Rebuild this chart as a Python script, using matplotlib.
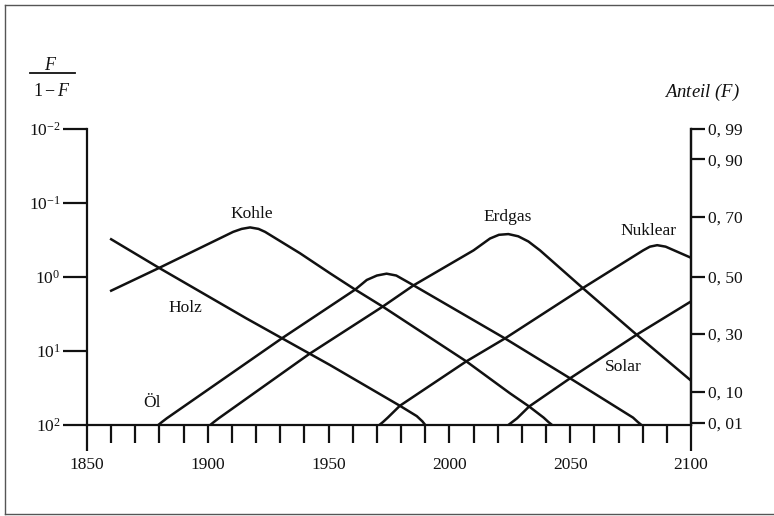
import matplotlib
matplotlib.use('Agg')
import matplotlib.pyplot as plt
from matplotlib.lines import Line2D
from matplotlib.ticker import FixedLocator, FixedFormatter

plt.rcParams['font.family'] = 'Liberation Serif'
plt.rcParams['mathtext.fontset'] = 'custom'
plt.rcParams['mathtext.rm'] = 'Liberation Serif'
plt.rcParams['mathtext.it'] = 'Liberation Serif:italic'

# log10 of F/(1-F), one unit per decade (0 = half share)
holz_years = [1860, 1880, 1916, 1950.6, 1979.5, 1986.5, 1988.8, 1990]
holz_vals = [0.51, 0.12, -0.56, -1.19, -1.74, -1.88, -1.95, -2.0]

kohle_years = [1860, 1880, 1910.5, 1914, 1917.5, 1921, 1923.7, 1938.2, 1950.6, 1961, 1972.4,
               2007, 2025, 2033, 2039, 2041, 2042.5]
kohle_vals = [-0.185, 0.125, 0.61, 0.65, 0.67, 0.65, 0.61, 0.32, 0.05, -0.17, -0.40,
              -1.14, -1.57, -1.75, -1.90, -1.96, -2.0]

oel_years = [1879.5, 1881, 1883, 1930.6, 1961, 1965.8, 1970, 1974, 1978, 1983.7, 2023, 2050,
             2076, 2078, 2079.5]
oel_vals = [-2.0, -1.96, -1.91, -0.83, -0.17, -0.04, 0.02, 0.045, 0.02, -0.085, -0.83, -1.37,
            -1.90, -1.96, -2.0]

erdgas_years = [1901, 1902.5, 1904.5, 1942, 1972.4, 1985.3, 2010, 2016.8, 2020.5, 2024.4,
                2028.5, 2032.7, 2037.5, 2055.2, 2077.5, 2100]
erdgas_vals = [-2.0, -1.96, -1.91, -1.04, -0.40, -0.11, 0.36, 0.52, 0.57, 0.58,
               0.55, 0.48, 0.36, -0.15, -0.78, -1.40]

nuklear_years = [1971, 1972.5, 1974.5, 1979.5, 2007, 2023, 2055.2, 2080.2, 2083, 2086,
                 2089.5, 2100]
nuklear_vals = [-2.0, -1.96, -1.90, -1.74, -1.14, -0.83, -0.15, 0.36, 0.41, 0.43,
                0.41, 0.26]

solar_years = [2024.4, 2026, 2028, 2033, 2049.9, 2077.5, 2100]
solar_vals = [-2.0, -1.96, -1.91, -1.75, -1.37, -0.78, -0.33]

series = [(holz_years, holz_vals), (kohle_years, kohle_vals), (oel_years, oel_vals),
          (erdgas_years, erdgas_vals), (nuklear_years, nuklear_vals), (solar_years, solar_vals)]

labels = ['Kohle', 'Holz', 'Öl', 'Erdgas', 'Nuklear', 'Solar']
label_x = [1918.3, 1890.6, 1876.9, 2024.2, 2082.2, 2071.8]
label_y = [0.85, -0.42, -1.70, 0.81, 0.62, -1.22]

left_ticks = [-2, -1, 0, 1, 2]
left_labels = ['10$^2$', '10$^1$', '10$^0$', '10$^{-1}$', '10$^{-2}$']

right_ticks = [-1.97, -1.55, -0.77, 0.0, 0.81, 1.59, 2.0]
right_labels = ['0, 01', '0, 10', '0, 30', '0, 50', '0, 70', '0, 90', '0, 99']

year_labels = {1900: '1900', 1950: '1950', 2000: '2000', 2050: '2050'}

INK = '#111111'
W, H = 774, 516
fig = plt.figure(figsize=(W / 100, H / 100), dpi=100)
ax = fig.add_axes([87 / W, 1 - 425 / H, 604 / W, 296 / H])

for years, vals in series:
    ax.plot(years, vals, color=INK, lw=1.8, solid_joinstyle='round')

for name, x, y in zip(labels, label_x, label_y):
    ax.text(x, y, name, ha='center', va='center', fontsize=12.5, color=INK)

ax.set_xlim(1850, 2100)
ax.set_ylim(-2, 2)
ax.spines['top'].set_visible(False)
for s in ['left', 'right', 'bottom']:
    ax.spines[s].set_linewidth(1.6)
    ax.spines[s].set_color(INK)

# long ticks at both ends, short ones every decade
ax.xaxis.set_major_locator(FixedLocator([1850, 2100]))
ax.xaxis.set_major_formatter(FixedFormatter(['1850', '2100']))
minor_years = list(range(1860, 2100, 10))
ax.xaxis.set_minor_locator(FixedLocator(minor_years))
ax.xaxis.set_minor_formatter(FixedFormatter([year_labels.get(y, '') for y in minor_years]))
ax.tick_params(axis='x', which='major', direction='out', length=19, width=1.6, pad=4,
               labelsize=12.5, color=INK, labelcolor=INK)
ax.tick_params(axis='x', which='minor', direction='out', length=13, width=1.6, pad=10,
               labelsize=12.5, color=INK, labelcolor=INK)

ax.set_yticks(left_ticks)
ax.set_yticklabels(left_labels)
ax.tick_params(axis='y', direction='out', length=17, width=1.6, pad=2, labelsize=12.5,
               color=INK, labelcolor=INK)

ax2 = ax.twinx()
ax2.set_ylim(-2, 2)
for s in ['top', 'left', 'bottom']:
    ax2.spines[s].set_visible(False)
ax2.spines['right'].set_linewidth(1.6)
ax2.spines['right'].set_color(INK)
ax2.set_yticks(right_ticks)
ax2.set_yticklabels(right_labels)
ax2.tick_params(axis='y', direction='out', length=10, width=1.6, pad=2, labelsize=12.5,
                color=INK, labelcolor=INK)

# axis captions
fig.text(51 / W, 1 - 65 / H, '$F$', ha='center', va='center', fontsize=13, color=INK)
fig.add_artist(Line2D([30 / W, 75 / W], [1 - 73 / H, 1 - 73 / H], color=INK, lw=1.3))
fig.text(52 / W, 1 - 92 / H, '$1 - F$', ha='center', va='center', fontsize=13, color=INK)
fig.text(702 / W, 1 - 92 / H, 'Anteil ($F$)', ha='center', va='center', fontsize=13.5,
         style='italic', color=INK)

# frame round the figure
for xs, ys in [([5, 5], [5, 514]), ([5, 774], [5, 5]), ([5, 774], [514, 514])]:
    fig.add_artist(Line2D([x / W for x in xs], [1 - y / H for y in ys], color='#555555', lw=1.0))

fig.savefig('out.png', dpi=100)
